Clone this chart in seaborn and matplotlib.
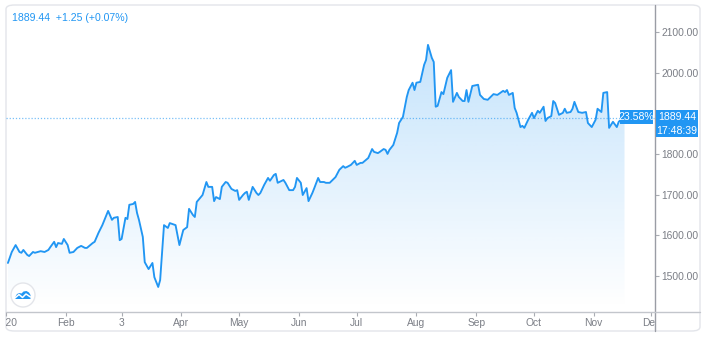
import numpy as np
import pandas as pd
import matplotlib
matplotlib.use("Agg")
import matplotlib.pyplot as plt
import matplotlib.dates as mdates
import seaborn as sns
from matplotlib.patches import FancyBboxPatch, Rectangle, Ellipse, Polygon
from matplotlib.lines import Line2D
from matplotlib.transforms import Bbox, TransformedBbox
from matplotlib.colors import to_rgb

# ---------------- data ----------------
start_date = "2020-01-01"
days = [1, 3, 5, 7, 8, 9, 11, 12, 14, 15, 18, 20, 22, 23, 25, 26, 27, 29, 30, 32,
        33, 35, 37, 39, 41, 42, 45, 46, 48, 50, 53, 55, 56, 58, 59, 60, 62, 63, 64, 66,
        67, 68, 69, 71, 72, 74, 76, 77, 79, 80, 82, 84, 85, 88, 90, 92, 94, 95, 97, 98,
        99, 102, 104, 105, 107, 108, 109, 111, 112, 114, 115, 117, 119, 120, 121, 123, 124, 125, 126, 128,
        130, 131, 132, 134, 136, 137, 139, 140, 141, 144, 145, 147, 149, 150, 151, 153, 154, 156, 157, 159,
        160, 162, 163, 165, 166, 168, 171, 173, 175, 176, 177, 179, 180, 181, 182, 184, 185, 188, 190, 191,
        193, 194, 196, 197, 198, 199, 201, 203, 204, 206, 208, 209, 211, 212, 213, 215, 217, 218, 219, 221,
        222, 223, 224, 226, 227, 229, 231, 232, 234, 235, 237, 238, 239, 240, 242, 245, 246, 248, 250, 253,
        255, 258, 259, 260, 261, 263, 264, 265, 267, 268, 269, 271, 273, 274, 276, 277, 279, 280, 281, 283,
        284, 285, 287, 289, 290, 291, 293, 294, 295, 297, 299, 301, 302, 304, 306, 307, 309, 310, 312, 313,
        315, 317, 318, 320, 321]
prices = [1532, 1559, 1576, 1559, 1557, 1564, 1552, 1549, 1559, 1557, 1561, 1559, 1564, 1571, 1584, 1571, 1581, 1579, 1591, 1576,
          1557, 1559, 1569, 1574, 1569, 1569, 1581, 1584, 1606, 1625, 1660, 1638, 1643, 1645, 1588, 1591, 1643, 1640, 1675, 1677,
          1682, 1655, 1638, 1596, 1534, 1517, 1532, 1497, 1473, 1490, 1625, 1618, 1630, 1625, 1576, 1613, 1620, 1665, 1650, 1645,
          1682, 1699, 1731, 1719, 1719, 1684, 1694, 1689, 1719, 1731, 1729, 1714, 1709, 1711, 1687, 1699, 1704, 1707, 1687, 1719,
          1704, 1699, 1704, 1724, 1741, 1734, 1748, 1751, 1729, 1736, 1729, 1711, 1711, 1719, 1741, 1729, 1699, 1716, 1684, 1704,
          1716, 1741, 1731, 1731, 1729, 1729, 1743, 1761, 1770, 1766, 1768, 1773, 1778, 1783, 1773, 1778, 1778, 1790, 1812, 1805,
          1802, 1805, 1812, 1810, 1800, 1810, 1822, 1852, 1876, 1891, 1940, 1957, 1975, 1957, 1975, 1977, 2019, 2031, 2068, 2036,
          2026, 1916, 1918, 1952, 1947, 1987, 2006, 1928, 1950, 1940, 1930, 1930, 1957, 1928, 1967, 1970, 1945, 1935, 1933, 1947,
          1945, 1955, 1952, 1957, 1945, 1950, 1913, 1901, 1866, 1869, 1864, 1884, 1901, 1888, 1906, 1901, 1916, 1881, 1888, 1893,
          1930, 1925, 1896, 1901, 1911, 1901, 1903, 1911, 1928, 1903, 1901, 1903, 1876, 1866, 1884, 1911, 1903, 1950, 1952, 1864,
          1879, 1866, 1879, 1888, 1889.44]
month_starts = ["2020-01-01", "2020-02-01", "2020-03-01", "2020-04-01", "2020-05-01", "2020-06-01",
                "2020-07-01", "2020-08-01", "2020-09-01", "2020-10-01", "2020-11-01", "2020-12-01"]
month_labels = ["2020", "Feb", "3", "Apr", "May", "Jun", "Jul", "Aug", "Sep", "Oct", "Nov", "Dec"]
price_ticks = [1500, 1600, 1700, 1800, 1900, 2000, 2100]
hidden_price_labels = [1900]   # covered by the last-price badge in the reference
last_price = 1889.44
change = 1.25
change_pct = 0.07
period_pct = 23.58
clock_label = "17:48:39"

# ---------------- style ----------------
sns.set_style("white")
plt.rcParams["font.family"] = ["Liberation Sans Narrow", "Liberation Sans", "DejaVu Sans"]

BLUE = "#2196f3"
GREY_TXT = "#7b7e86"
W, H = 710, 340

def fx(px):
    return px / W

def fy(py):
    return 1 - py / H

fig = plt.figure(figsize=(W / 100, H / 100), dpi=100)
fig.patch.set_facecolor("white")

# card border
card = FancyBboxPatch((fx(6), fy(331)), fx(700) - fx(6), fy(5) - fy(331),
                      boxstyle="round,pad=0,rounding_size=0.012",
                      transform=fig.transFigure, facecolor="white",
                      edgecolor="#e3e5ea", linewidth=1.0, zorder=-5)
fig.patches.append(card)

ax = fig.add_axes([fx(6), fy(312), fx(655) - fx(6), fy(5) - fy(312)])
ax.set_facecolor("none")

df = pd.DataFrame({
    "date": pd.Timestamp(start_date) + pd.to_timedelta(days, unit="D"),
    "price": prices,
})
xnum = mdates.date2num(df["date"])

x0 = mdates.date2num(pd.Timestamp(start_date)) + 0.52
x1 = x0 + 336.3
ylo, yhi = 1411.5, 2166.0

# gradient area fill
ybase = ylo + 8
verts = list(zip(xnum, df["price"])) + [(xnum[-1], ybase), (xnum[0], ybase)]
poly = Polygon(verts, closed=True, facecolor="none", edgecolor="none", transform=ax.transData)
ax.add_patch(poly)
grad = np.zeros((256, 1, 4))
grad[..., :3] = to_rgb(BLUE)
grad[:, 0, 3] = np.linspace(0.0, 0.30, 256)
im = ax.imshow(grad, extent=[xnum[0], xnum[-1], ybase, yhi], origin="lower",
               aspect="auto", zorder=1, interpolation="bilinear")
im.set_clip_path(poly)

# line
sns.lineplot(data=df, x="date", y="price", ax=ax, color=BLUE, linewidth=1.35,
             estimator=None, sort=False, zorder=3)

# last price dotted line
ax.axhline(last_price, color=BLUE, linestyle=(0, (1, 1.5)), linewidth=0.9, alpha=0.6, zorder=2)

ax.set_xlim(x0, x1)
ax.set_ylim(ylo, yhi)
ax.set_xlabel("")
ax.set_ylabel("")
for s in ax.spines.values():
    s.set_visible(False)

# x ticks
mdates_ticks = mdates.date2num(pd.to_datetime(month_starts))
ax.set_xticks(mdates_ticks)
ax.set_xticklabels([""] * len(mdates_ticks))
ax.tick_params(axis="x", bottom=True, length=3, width=0.8, color="#a9acb3", direction="out")

clip_box = TransformedBbox(Bbox.from_extents(fx(6), 0, fx(655), 1), fig.transFigure)
for xv, lbl in zip(mdates_ticks, month_labels):
    t = ax.text(xv, -11 / 307, lbl, transform=ax.get_xaxis_transform(),
                ha="center", va="center", fontsize=7.4, color=GREY_TXT)
    t.set_clip_path(None)
    t.set_clip_box(clip_box)
    t.set_clip_on(True)

# y ticks on the right
ax.yaxis.tick_right()
ax.set_yticks(price_ticks)
ax.set_yticklabels(["" if v in hidden_price_labels else f"{v:.2f}" for v in price_ticks])
ax.tick_params(axis="y", right=True, left=False, labelright=True, labelleft=False,
               length=3, width=0.8, color="#a9acb3", pad=1.5, labelsize=7.4, labelcolor=GREY_TXT)

# axis lines (extend beyond pane)
fig.lines.append(Line2D([fx(655), fx(655)], [fy(5), fy(331)], transform=fig.transFigure,
                        color="#9a9da5", linewidth=1.0))
fig.lines.append(Line2D([fx(6), fx(700)], [fy(312), fy(312)], transform=fig.transFigure,
                        color="#c3c6cc", linewidth=1.0))

# header legend
fig.text(fx(12), fy(18), f"{last_price:.2f}  +{change:.2f} (+{change_pct:.2f}%)",
         color=BLUE, fontsize=7.6, ha="left", va="center")

# badges
def badge(px0, py0, px1, py1, text):
    r = Rectangle((fx(px0), fy(py1)), fx(px1) - fx(px0), fy(py0) - fy(py1),
                  transform=fig.transFigure, facecolor=BLUE, edgecolor="none", zorder=5)
    fig.patches.append(r)
    fig.text((fx(px0) + fx(px1)) / 2, (fy(py0) + fy(py1)) / 2, text, color="white",
             fontsize=7.6, ha="center", va="center", zorder=6)

badge(620, 110.5, 653, 123.5, f"{period_pct:.2f}%")
badge(656, 110.5, 698, 123.5, f"{last_price:.2f}")
badge(656, 124, 698, 137, clock_label)

# logo
logo_c = Ellipse((fx(23), fy(295)), 24 / W, 24 / H, transform=fig.transFigure,
                 facecolor="white", edgecolor="#e3e5ea", linewidth=1.0, zorder=4)
fig.patches.append(logo_c)
cloud_px = [(15.5, 299), (15.5, 296.5), (17, 294), (19.5, 293), (21.5, 293.5), (23.5, 291.5),
            (26.5, 291), (29, 292.5), (30.5, 295), (30.5, 299)]
fig.patches.append(Polygon([(fx(a), fy(b)) for a, b in cloud_px], closed=True,
                           transform=fig.transFigure, facecolor=BLUE, edgecolor="none", zorder=5))
zig_px = [(15.5, 297.5), (19, 294.5), (22.5, 297.5), (26, 294), (30.5, 297)]
fig.lines.append(Line2D([fx(a) for a, b in zig_px], [fy(b) for a, b in zig_px],
                        transform=fig.transFigure, color="white", linewidth=1.1, zorder=6))

fig.savefig("out.png", dpi=100, facecolor="white")
